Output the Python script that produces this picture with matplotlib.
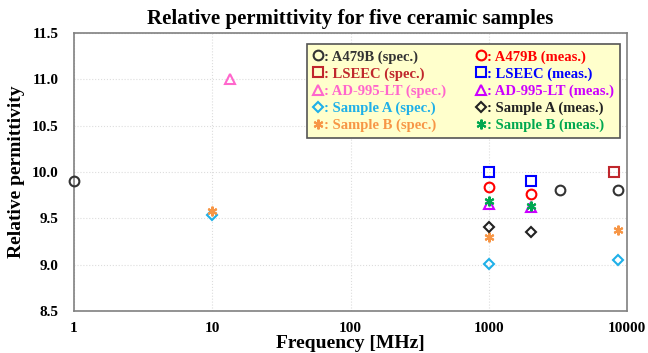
import matplotlib.pyplot as plt
from matplotlib.ticker import FixedLocator, FixedFormatter, NullLocator

plt.rcParams['font.family'] = ['Liberation Serif', 'DejaVu Serif']
plt.rcParams['font.weight'] = 'bold'

# spec. values
a479b_spec_f = [1, 3250, 8600]
a479b_spec_e = [9.90, 9.80, 9.80]
lseec_spec_f = [8000]
lseec_spec_e = [10.00]
ad995_spec_f = [13.5]
ad995_spec_e = [11.00]
sa_spec_f = [10, 1000, 8600]
sa_spec_e = [9.53, 9.01, 9.05]
sb_spec_f = [10, 1000, 8600]
sb_spec_e = [9.58, 9.30, 9.37]

# meas. values
a479b_meas_f = [1000, 2000]
a479b_meas_e = [9.84, 9.76]
lseec_meas_f = [1000, 2000]
lseec_meas_e = [10.00, 9.90]
ad995_meas_f = [1000, 2000]
ad995_meas_e = [9.65, 9.62]
sa_meas_f = [1000, 2000]
sa_meas_e = [9.41, 9.35]
sb_meas_f = [1000, 2000]
sb_meas_e = [9.69, 9.63]

x_ticks = [1, 10, 100, 1000, 10000]
y_ticks = [8.5, 9.0, 9.5, 10.0, 10.5, 11.0, 11.5]

series = [
    (a479b_spec_f, a479b_spec_e, 'o', '#333333', 'A479B (spec.)'),
    (lseec_spec_f, lseec_spec_e, 's', '#C0272D', 'LSEEC (spec.)'),
    (ad995_spec_f, ad995_spec_e, '^', '#FF66CC', 'AD-995-LT (spec.)'),
    (sa_spec_f, sa_spec_e, 'D', '#1FB0E8', 'Sample A (spec.)'),
    (sb_spec_f, sb_spec_e, (6, 2, 0), '#F79646', 'Sample B (spec.)'),
    (a479b_meas_f, a479b_meas_e, 'o', '#FF0000', 'A479B (meas.)'),
    (lseec_meas_f, lseec_meas_e, 's', '#0000FF', 'LSEEC (meas.)'),
    (ad995_meas_f, ad995_meas_e, '^', '#CC00FF', 'AD-995-LT (meas.)'),
    (sa_meas_f, sa_meas_e, 'D', '#222222', 'Sample A (meas.)'),
    (sb_meas_f, sb_meas_e, (6, 2, 0), '#00A850', 'Sample B (meas.)'),
]

fig = plt.figure(figsize=(6.48, 3.53), dpi=100)
ax = fig.add_axes([0.114, 0.119, 0.854, 0.788])

for f, e, m, c, lab in series:
    size = 5.5 if m == 'D' else 7
    ax.plot(f, e, linestyle='none', marker=m, markersize=size,
            markerfacecolor='none', markeredgecolor=c, markeredgewidth=1.5,
            label=': ' + lab, clip_on=False, zorder=3)

ax.set_xscale('log')
ax.set_xlim(1, 10000)
ax.set_ylim(8.5, 11.5)
ax.xaxis.set_major_locator(FixedLocator(x_ticks))
ax.xaxis.set_major_formatter(FixedFormatter([str(t) for t in x_ticks]))
ax.xaxis.set_minor_locator(NullLocator())
ax.set_yticks(y_ticks)
ax.set_yticklabels(['%.1f' % t for t in y_ticks])
ax.tick_params(axis='x', length=0, labelsize=11, pad=8)
ax.tick_params(axis='y', length=0, labelsize=11, pad=11)
ax.grid(True, color='#dddddd', linestyle=':', linewidth=0.8)
for s in ax.spines.values():
    s.set_color('#808080')
    s.set_linewidth(1.2)

ax.set_title('Relative permittivity for five ceramic samples', fontsize=15,
             fontweight='bold', pad=6)
ax.set_xlabel('Frequency [MHz]', fontsize=14, fontweight='bold', labelpad=0)
ax.set_ylabel('Relative permittivity', fontsize=14, fontweight='bold', labelpad=5)

leg = ax.legend(ncol=2, loc='upper right', bbox_to_anchor=(1.0, 0.985),
                fontsize=10.5, handlelength=0.8, handletextpad=0.0,
                columnspacing=2.0, labelspacing=0.25, borderpad=0.4,
                fancybox=False, framealpha=1, shadow=False)
leg.get_frame().set_facecolor('#FFFFCC')
leg.get_frame().set_edgecolor('#555555')
leg.get_frame().set_linewidth(1.2)
for txt, (_, _, _, c, _) in zip(leg.get_texts(), series):
    txt.set_color(c)
    txt.set_fontweight('bold')

fig.savefig('out.png', dpi=100)
